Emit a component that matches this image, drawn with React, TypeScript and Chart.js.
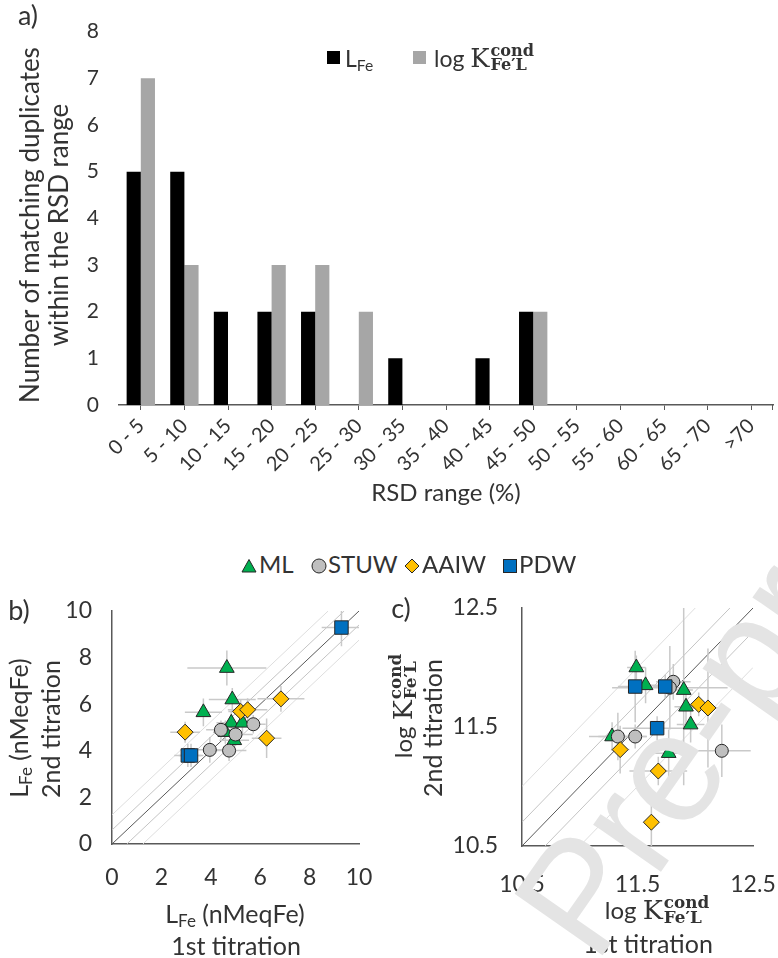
import React, { useEffect, useRef } from 'react';
import { Chart, registerables } from 'chart.js';

Chart.register(...registerables);

const SANS = 'Lato, "Open Sans", sans-serif';
const SERIF = '"DejaVu Serif", "Liberation Serif", serif';
const TEXT = '#333333';
const AXIS = '#595959';

// ---------- Panel a data ----------
const rsdRanges = ['0 - 5', '5 - 10', '10 - 15', '15 - 20', '20 - 25', '25 - 30', '30 - 35', '35 - 40', '40 - 45', '45 - 50', '50 - 55', '55 - 60', '60 - 65', '65 - 70', '>70'];
const lfeCounts = [5, 5, 2, 2, 2, 0, 1, 0, 1, 2, 0, 0, 0, 0, 0];
const logKCounts = [7, 3, 0, 3, 3, 2, 0, 0, 0, 2, 0, 0, 0, 0, 0];
const countRange = [0, 8];

// ---------- Panel b data: [1st titration, 2nd titration, xErr, yErr] ----------
const mlLfe = [[4.65, 7.55, 1.6, 0.75], [4.87, 6.2, 0.95, 0.5], [3.7, 5.65, 0.75, 0.6], [4.83, 5.2, 0.6, 0.5], [5.28, 5.2, 0.6, 0.45], [4.59, 4.8, 0.5, 0.5], [4.95, 4.45, 0.6, 0.5]];
const stuwLfe = [[4.41, 4.9, 0.6, 0.4], [5.0, 4.7, 0.7, 0.5], [5.72, 5.14, 0.5, 0.4], [3.96, 4.04, 0.5, 0.55], [4.74, 4.01, 0.7, 0.45]];
const aaiwLfe = [[2.96, 4.8, 0.6, 0.45], [5.21, 5.69, 0.5, 0.5], [5.49, 5.76, 0.8, 0.5], [6.84, 6.23, 0.95, 0.55], [6.26, 4.54, 0.6, 0.85]];
const pdwLfe = [[9.29, 9.29, 0.8, 0.8], [3.07, 3.8, 0.55, 0.5], [3.2, 3.8, 0.5, 0.5]];
const lfeRange = [0, 10];
const lfeBandOffsets = [0, 0.6, -0.6, 1.25, -1.25];

// ---------- Panel c data ----------
const mlLogK = [[11.49, 12.0, 0.08, 0.1], [11.57, 11.85, 0.12, 0.15], [11.9, 11.81, 0.08, 0.8], [11.92, 11.67, 0.1, 0.15], [11.96, 11.52, 0.12, 0.15], [11.28, 11.42, 0.12, 0.12], [11.77, 11.28, 0.15, 0.2]];
const stuwLogK = [[11.81, 11.88, 0.15, 0.15], [11.78, 11.83, 0.5, 0.35], [11.33, 11.42, 0.25, 0.2], [11.48, 11.42, 0.1, 0.1], [12.23, 11.3, 0.25, 0.22]];
const aaiwLogK = [[12.03, 11.69, 0.1, 0.1], [12.11, 11.66, 0.15, 0.5], [11.35, 11.31, 0.08, 0.2], [11.68, 11.13, 0.25, 0.12], [11.62, 10.7, 0.05, 0.25]];
const pdwLogK = [[11.48, 11.84, 0.15, 0.3], [11.74, 11.84, 0.1, 0.1], [11.67, 11.49, 0.3, 0.1]];
const logKRange = [10.5, 12.5];
const logKBandOffsets = [0, 0.2, -0.2, 0.5, -0.5];

const seriesStyle = [
  { label: 'ML', style: 'triangle', radius: 8.5, color: '#00b050' },
  { label: 'STUW', style: 'circle', radius: 6.5, color: '#bfbfbf' },
  { label: 'AAIW', style: 'rectRot', radius: 8, color: '#ffc000' },
  { label: 'PDW', style: 'rect', radius: 9.5, color: '#0070c0' },
];

const errorBarPlugin = {
  id: 'errorBars',
  beforeDatasetDraw(chart: any, args: any) {
    const ds = chart.data.datasets[args.index];
    if (!ds.drawErrorsBefore) return;
    const { ctx, chartArea, scales } = chart;
    const xs = scales.x, ys = scales.y;
    ctx.save();
    ctx.beginPath();
    ctx.rect(chartArea.left, chartArea.top, chartArea.width, chartArea.height);
    ctx.clip();
    ctx.strokeStyle = '#c9c9c9';
    ctx.lineWidth = 1.5;
    chart.data.datasets.forEach((d: any) => {
      if (!d.errors) return;
      d.data.forEach((p: any, i: number) => {
        const [xe, ye] = d.errors[i];
        ctx.beginPath();
        ctx.moveTo(xs.getPixelForValue(p.x - xe), ys.getPixelForValue(p.y));
        ctx.lineTo(xs.getPixelForValue(p.x + xe), ys.getPixelForValue(p.y));
        ctx.moveTo(xs.getPixelForValue(p.x), ys.getPixelForValue(p.y - ye));
        ctx.lineTo(xs.getPixelForValue(p.x), ys.getPixelForValue(p.y + ye));
        ctx.stroke();
      });
    });
    ctx.restore();
  },
};

const endTickPlugin = {
  id: 'endTick',
  afterDraw(chart: any) {
    const { ctx, chartArea } = chart;
    ctx.save();
    ctx.strokeStyle = AXIS;
    ctx.lineWidth = 1;
    ctx.beginPath();
    ctx.moveTo(chartArea.right - 0.5, chartArea.bottom);
    ctx.lineTo(chartArea.right - 0.5, chartArea.bottom + 5);
    ctx.stroke();
    ctx.restore();
  },
};

function bandLine(off: number, range: number[]) {
  const [lo, hi] = range;
  if (off >= 0) return [{ x: lo, y: lo + off }, { x: hi - off, y: hi }];
  return [{ x: lo - off, y: lo }, { x: hi, y: hi + off }];
}

function BarChart() {
  const ref = useRef<HTMLCanvasElement>(null);
  useEffect(() => {
    const chart = new Chart(ref.current!, {
      type: 'bar',
      data: {
        labels: rsdRanges,
        datasets: [
          { label: 'LFe', data: lfeCounts, backgroundColor: '#000000', barPercentage: 1, categoryPercentage: 0.65 },
          { label: 'log K', data: logKCounts, backgroundColor: '#a6a6a6', barPercentage: 1, categoryPercentage: 0.65 },
        ],
      },
      options: {
        responsive: false,
        animation: false,
        layout: { padding: { top: 31.6, right: 5, left: 0, bottom: 0 } },
        plugins: { legend: { display: false }, tooltip: { enabled: false } },
        scales: {
          x: {
            grid: { display: true, drawOnChartArea: false, drawTicks: true, tickLength: 5, color: AXIS, offset: false },
            border: { display: true, color: AXIS, width: 1.5 },
            ticks: { color: TEXT, font: { family: SANS, size: 20 }, minRotation: 45, maxRotation: 45, padding: 4, autoSkip: false },
            afterFit: (s: any) => { s.height = 115; },
          },
          y: {
            min: countRange[0], max: countRange[1],
            ticks: { stepSize: 1, padding: 0, color: TEXT, font: { family: SANS, size: 21 } },
            grid: { display: false, drawTicks: true, tickLength: 20 },
            border: { display: false },
            afterFit: (s: any) => { s.width = 119; },
          },
        },
      },
      plugins: [endTickPlugin],
    } as any);
    return () => chart.destroy();
  }, []);
  return <canvas ref={ref} width={778} height={520} style={{ position: 'absolute', left: 0, top: 0 }} />;
}

function ScatterChart(props: { series: number[][][]; range: number[]; offsets: number[]; step: number; decimals: number; left: number; width: number; pad: { top: number; right: number }; yWidth: number; xHeight: number; yPad: number; xPad: number }) {
  const ref = useRef<HTMLCanvasElement>(null);
  useEffect(() => {
    const { series, range, offsets } = props;
    const innerOff = Math.min(...offsets.filter((o) => o > 0));
    const markerSets = series.map((rows, i) => ({
      label: seriesStyle[i].label,
      data: rows.map((r) => ({ x: r[0], y: r[1] })),
      errors: rows.map((r) => [r[2], r[3]]),
      drawErrorsBefore: i === 0,
      pointStyle: seriesStyle[i].style,
      pointRadius: seriesStyle[i].radius,
      backgroundColor: seriesStyle[i].color,
      borderColor: '#262626',
      borderWidth: 1,
      order: 4 - i,
    }));
    const lineSets = offsets.map((off) => ({
      label: 'ref' + off,
      data: bandLine(off, range),
      showLine: true,
      pointRadius: 0,
      borderColor: off === 0 ? '#595959' : Math.abs(off) === innerOff ? '#c4c4c4' : '#dedede',
      borderWidth: 1,
      order: 10,
    }));
    const chart = new Chart(ref.current!, {
      type: 'scatter',
      data: { datasets: [...markerSets, ...lineSets] },
      options: {
        responsive: false,
        animation: false,
        layout: { padding: { top: props.pad.top, right: props.pad.right, left: 0, bottom: 0 } },
        plugins: { legend: { display: false }, tooltip: { enabled: false } },
        scales: {
          x: {
            type: 'linear', min: range[0], max: range[1],
            ticks: { stepSize: props.step, padding: 0, color: TEXT, font: { family: SANS, size: 23 }, callback: (v: any) => Number(v).toFixed(props.decimals) },
            grid: { display: false, drawTicks: true, tickLength: props.xPad },
            border: { display: true, color: AXIS, width: 1.5 },
            afterFit: (s: any) => { s.height = props.xHeight; },
          },
          y: {
            type: 'linear', min: range[0], max: range[1],
            ticks: { stepSize: props.step, padding: 0, color: TEXT, font: { family: SANS, size: 23 }, callback: (v: any) => Number(v).toFixed(props.decimals) },
            grid: { display: false, drawTicks: true, tickLength: props.yPad },
            border: { display: true, color: AXIS, width: 1.5 },
            afterFit: (s: any) => { s.width = props.yWidth; },
          },
        },
      },
      plugins: [errorBarPlugin],
    } as any);
    return () => chart.destroy();
  }, []);
  return <canvas ref={ref} width={props.width} height={378} style={{ position: 'absolute', left: props.left, top: 580 }} />;
}

function T(props: { x: number; y: number; size?: number; rot?: number; children: any; style?: any }) {
  return (
    <div
      style={{
        position: 'absolute', left: props.x, top: props.y,
        transform: `translate(-50%, -50%) rotate(${props.rot || 0}deg)`,
        fontSize: props.size || 20, fontFamily: SANS, color: TEXT, whiteSpace: 'nowrap', lineHeight: 1.2,
        ...(props.style || {}),
      }}
    >
      {props.children}
    </div>
  );
}

function LFe(props: { size: number }) {
  return (
    <span>
      L<span style={{ fontSize: props.size * 0.68, verticalAlign: '-0.25em' }}>Fe</span>
    </span>
  );
}

function LogK(props: { size: number }) {
  return (
    <span style={{ display: 'inline-flex', alignItems: 'center' }}>
      <span>log&nbsp;</span>
      <span style={{ fontFamily: SERIF, fontSize: props.size * 1.12 }}>K</span>
      <span style={{ display: 'inline-flex', flexDirection: 'column', fontFamily: SERIF, fontWeight: 'bold', fontSize: props.size * 0.7, lineHeight: 0.92, marginLeft: 1 }}>
        <span>cond</span>
        <span>Fe′L</span>
      </span>
    </span>
  );
}

function Marker(props: { kind: string; color: string }) {
  const s = { fill: props.color, stroke: '#262626', strokeWidth: 1 };
  let shape;
  if (props.kind === 'triangle') shape = <polygon points="8,1.5 15,14 1,14" {...s} />;
  else if (props.kind === 'circle') shape = <circle cx="8" cy="8" r="7" {...s} />;
  else if (props.kind === 'rectRot') shape = <polygon points="8,1 15,8 8,15 1,8" {...s} />;
  else shape = <rect x="1.5" y="1.5" width="13" height="13" {...s} />;
  return <svg width="16" height="16" style={{ display: 'block' }}>{shape}</svg>;
}

export default function App() {
  const legendItems = [
    { m: 0, mx: 241, tx: 259, text: 'ML' },
    { m: 1, mx: 311, tx: 328, text: 'STUW' },
    { m: 2, mx: 404, tx: 422, text: 'AAIW' },
    { m: 3, mx: 502, tx: 519, text: 'PDW' },
  ];
  return (
    <div style={{ position: 'fixed', left: 0, top: 0, width: 778, height: 958, overflow: 'hidden', background: '#ffffff' }}>
      <BarChart />
      <ScatterChart series={[mlLfe, stuwLfe, aaiwLfe, pdwLfe]} range={lfeRange} offsets={lfeBandOffsets} step={2} decimals={0}
        left={0} width={390} pad={{ top: 31, right: 31 }} yWidth={112} xHeight={114} yPad={20} xPad={20} />
      <ScatterChart series={[mlLogK, stuwLogK, aaiwLogK, pdwLogK]} range={logKRange} offsets={logKBandOffsets} step={1} decimals={1}
        left={390} width={388} pad={{ top: 28, right: 25 }} yWidth={132} xHeight={112} yPad={24} xPad={25} />

      {/* panel a texts */}
      <T x={28} y={15} size={27}>a)</T>
      <T x={30} y={225} size={26} rot={-90}>Number of matching duplicates</T>
      <T x={59} y={225} size={26} rot={-90}>within the RSD range</T>
      <T x={446} y={492} size={24}>RSD range (%)</T>
      <div style={{ position: 'absolute', left: 327, top: 51, width: 13, height: 13, background: '#000' }} />
      <div style={{ position: 'absolute', left: 345, top: 45, fontFamily: SANS, fontSize: 23, color: TEXT, lineHeight: 1.2 }}><LFe size={23} /></div>
      <div style={{ position: 'absolute', left: 413, top: 51, width: 13, height: 13, background: '#a6a6a6' }} />
      <div style={{ position: 'absolute', left: 434, top: 58, transform: 'translateY(-50%)', fontFamily: SANS, fontSize: 23, color: TEXT, lineHeight: 1.2 }}><LogK size={23} /></div>

      {/* shared legend */}
      {legendItems.map((it) => (
        <React.Fragment key={it.text}>
          <div style={{ position: 'absolute', left: it.mx, top: 558 }}><Marker kind={seriesStyle[it.m].style} color={seriesStyle[it.m].color} /></div>
          <div style={{ position: 'absolute', left: it.tx, top: 550, fontFamily: SANS, fontSize: 24, color: TEXT, lineHeight: 1.2 }}>{it.text}</div>
        </React.Fragment>
      ))}

      {/* panel b texts */}
      <T x={19} y={610} size={27}>b)</T>
      <T x={20} y={728} size={25} rot={-90}><LFe size={25} /> (nMeqFe)</T>
      <T x={50} y={729} size={25} rot={-90}>2nd titration</T>
      <T x={235} y={915} size={25}><LFe size={25} /> (nMeqFe)</T>
      <T x={236} y={945} size={25}>1st titration</T>

      {/* panel c texts */}
      <T x={401} y={608} size={27}>c)</T>
      <T x={403} y={706} size={24} rot={-90}><LogK size={24} /></T>
      <T x={432} y={728} size={25} rot={-90}>2nd titration</T>
      <T x={657} y={910} size={24}><LogK size={24} /></T>
      <T x={648} y={943} size={25}>1st titration</T>

      {/* watermark */}
      <div style={{ position: 'absolute', left: 487, top: 890, transformOrigin: '0 0', transform: 'rotate(-55deg)', fontFamily: '"Liberation Sans", Arial, sans-serif', fontSize: 156, lineHeight: 1, color: '#e4e4e4', whiteSpace: 'nowrap', pointerEvents: 'none' }}>Pre-proof</div>
    </div>
  );
}
